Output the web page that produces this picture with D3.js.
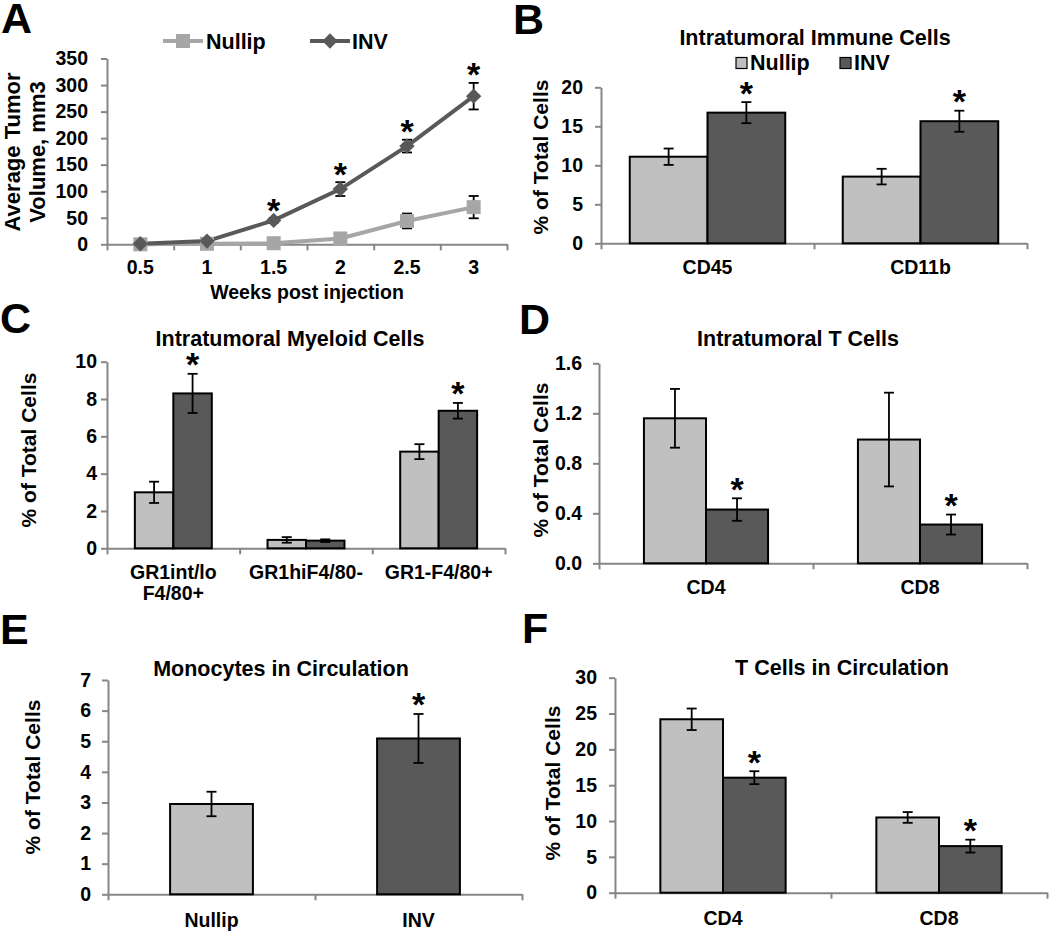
<!DOCTYPE html>
<html><head><meta charset="utf-8">
<script src="https://cdn.jsdelivr.net/npm/d3@7"></script>
<style>
html,body{margin:0;padding:0;background:#fff;}
svg text{font-family:'Liberation Sans',Arial,sans-serif;font-weight:bold;fill:#000;}
</style></head>
<body>
<svg id="fig" width="1050" height="932"></svg>
<script>
// ---------- DATA ----------
const seriesNames = ["Nullip", "INV"];
// Panel A
const weeks = ["0.5", "1", "1.5", "2", "2.5", "3"];
const nullipVol = [0, 1, 2, 11, 44, 70];
const nullipVolErr = [1, 1, 1, 3, 14, 21];
const invVol = [1, 6, 45, 104, 185, 279];
const invVolErr = [1, 2, 4, 13, 12, 25];
const invVolSig = [false, false, true, true, true, true];
const volTicks = [0, 50, 100, 150, 200, 250, 300, 350];
// Panel B
const immuneCats = ["CD45", "CD11b"];
const immuneNullip = [11.1, 8.55];
const immuneNullipErr = [1.05, 1.0];
const immuneInv = [16.75, 15.65];
const immuneInvErr = [1.35, 1.35];
const immuneTicks = [0, 5, 10, 15, 20];
// Panel C
const myeloidCats = ["GR1int/lo\nF4/80+", "GR1hiF4/80-", "GR1-F4/80+"];
const myeloidNullip = [3.0, 0.45, 5.18];
const myeloidNullipErr = [0.57, 0.15, 0.4];
const myeloidInv = [8.3, 0.41, 7.37];
const myeloidInvErr = [1.05, 0.07, 0.42];
const myeloidInvSig = [true, false, true];
const myeloidTicks = [0, 2, 4, 6, 8, 10];
// Panel D
const tumorTCats = ["CD4", "CD8"];
const tumorTNullip = [1.16, 0.99];
const tumorTNullipErr = [0.235, 0.375];
const tumorTInv = [0.43, 0.31];
const tumorTInvErr = [0.09, 0.08];
const tumorTTicks = [0, 0.4, 0.8, 1.2, 1.6];
// Panel E
const monoCats = ["Nullip", "INV"];
const monoVals = [2.95, 5.09];
const monoErr = [0.4, 0.8];
const monoSig = [false, true];
const monoTicks = [0, 1, 2, 3, 4, 5, 6, 7];
// Panel F
const circTCats = ["CD4", "CD8"];
const circTNullip = [24.2, 10.5];
const circTNullipErr = [1.5, 0.75];
const circTInv = [16.05, 6.5];
const circTInvErr = [0.9, 0.9];
const circTTicks = [0, 5, 10, 15, 20, 25, 30];

// ---------- STYLE ----------
const LIGHT = "#c0c0c0", DARK = "#595959";
const LINE_LIGHT = "#a6a6a6", LINE_DARK = "#595959";
const AXIS = "#868686";
const FS_TICK = 19.5, FS_CAT = 19.5, FS_TITLE = 21.5, FS_YT = 21, FS_LEG = 21.5;

const svg = d3.select("#fig");

function panelLabel(t, x, y) {
  svg.append("text").attr("x", x).attr("y", y).attr("font-size", 43).text(t);
}
function star(g, x, yc) {
  g.append("text").attr("x", x).attr("y", yc + 0.6 * 34).attr("text-anchor", "middle")
    .attr("font-size", 34).text("*");
}
function styleAxis(sel) {
  sel.selectAll("path.domain").attr("stroke", AXIS).attr("stroke-width", 2);
  sel.selectAll(".tick line").attr("stroke", AXIS).attr("stroke-width", 2);
  sel.selectAll(".tick text").attr("font-size", FS_TICK).attr("font-family", "'Liberation Sans',Arial,sans-serif").attr("font-weight", "bold").attr("fill", "#000");
}
function yTitle(lines, x, y, fs) {
  lines.forEach((l, i) => {
    svg.append("text").attr("transform", `translate(${x[i]},${y}) rotate(-90)`)
      .attr("text-anchor", "middle").attr("dy", "0.36em").attr("font-size", fs || FS_YT).text(l);
  });
}
function errBar(g, x, y, v, e, cap) {
  g.append("line").attr("x1", x).attr("x2", x).attr("y1", y(v - e)).attr("y2", y(v + e)).attr("stroke", "#000").attr("stroke-width", 1.8);
  [v - e, v + e].forEach(t => g.append("line").attr("x1", x - cap).attr("x2", x + cap).attr("y1", y(t)).attr("y2", y(t)).attr("stroke", "#000").attr("stroke-width", 1.8));
}
function axes(o, n, ticks, fmt) {
  const y = d3.scaleLinear().domain([0, ticks[ticks.length - 1]]).range([o.y0, o.yTop]);
  const gy = svg.append("g").attr("transform", `translate(${o.left},0)`)
    .call(d3.axisLeft(y).tickValues(ticks).tickFormat(fmt).tickSize(6).tickSizeOuter(0).tickPadding(o.labelGap - 6));
  styleAxis(gy);
  const xl = d3.scaleLinear().domain([0, n]).range([o.left, o.right]);
  const gx = svg.append("g").attr("transform", `translate(0,${o.y0})`)
    .call(d3.axisBottom(xl).tickValues(d3.range(n + 1)).tickFormat("").tickSize(6).tickSizeOuter(0));
  styleAxis(gx);
  return y;
}
function catLabels(x, cats, yb) {
  cats.forEach(c => {
    c.split("\n").forEach((l, i) => {
      svg.append("text").attr("x", x(c) + x.bandwidth() / 2).attr("y", yb + i * 21)
        .attr("text-anchor", "middle").attr("font-size", FS_CAT).text(l);
    });
  });
}
function barPanel(o) {
  const n = o.cats.length;
  const y = axes(o, n, o.ticks, o.fmt || d3.format("d"));
  const x = d3.scaleBand().domain(o.cats).range([o.left, o.right]).padding(0);
  const g = svg.append("g");
  const bw = x.bandwidth() * o.barFrac;
  const ns = o.series.length;
  o.cats.forEach((c, i) => {
    const cx = x(c) + x.bandwidth() / 2;
    o.series.forEach((s, j) => {
      const x0 = cx - (ns * bw) / 2 + j * bw;
      const col = Array.isArray(s.color) ? s.color[i] : s.color;
      g.append("rect").attr("x", x0).attr("y", y(s.vals[i])).attr("width", bw)
        .attr("height", y(0) - y(s.vals[i])).attr("fill", col).attr("stroke", "#000").attr("stroke-width", 2);
    });
    o.series.forEach((s, j) => {
      const bx = cx - (ns * bw) / 2 + j * bw + bw / 2;
      errBar(g, bx, y, s.vals[i], s.errs[i], 5);
      if (s.sig && s.sig[i]) star(g, bx, y(s.vals[i] + s.errs[i]) - 18);
    });
  });
  catLabels(x, o.cats, o.catY);
  svg.append("text").attr("x", o.titleX).attr("y", o.titleY).attr("text-anchor", "middle").attr("font-size", FS_TITLE).text(o.title);
  yTitle(["% of Total Cells"], [o.yTitleX], o.yTitleY);
}

// ---------- PANEL A ----------
(function () {
  const o = { left: 107, right: 507, y0: 244.3, yTop: 58.5, labelGap: 19 };
  const y = axes(o, weeks.length, volTicks, d3.format("d"));
  const x = d3.scaleBand().domain(weeks).range([o.left, o.right]).padding(0);
  const cx = d => x(d) + x.bandwidth() / 2;
  const g = svg.append("g");
  const line = d3.line().x((d, i) => cx(weeks[i])).y(d => y(d));
  g.append("path").datum(nullipVol).attr("d", line).attr("fill", "none").attr("stroke", LINE_LIGHT).attr("stroke-width", 4);
  g.append("path").datum(invVol).attr("d", line).attr("fill", "none").attr("stroke", LINE_DARK).attr("stroke-width", 4);
  nullipVol.forEach((v, i) => {
    errBar(g, cx(weeks[i]), y, v, nullipVolErr[i], 5);
    g.append("rect").attr("x", cx(weeks[i]) - 7).attr("y", y(v) - 7).attr("width", 14).attr("height", 14).attr("fill", LINE_LIGHT);
  });
  invVol.forEach((v, i) => {
    errBar(g, cx(weeks[i]), y, v, invVolErr[i], 5);
    g.append("path").attr("d", d3.symbol(d3.symbolDiamond2, 150)()).attr("transform", `translate(${cx(weeks[i])},${y(v)})`).attr("fill", LINE_DARK);
    if (invVolSig[i]) star(g, cx(weeks[i]), y(v + invVolErr[i]) - 17);
  });
  catLabels(x, weeks, 274);
  svg.append("text").attr("x", 307).attr("y", 298.5).attr("text-anchor", "middle").attr("font-size", FS_CAT).text("Weeks post injection");
  yTitle(["Average Tumor", "Volume, mm3"], [12, 37], 152, 22);
  // legend
  const lg = svg.append("g");
  lg.append("line").attr("x1", 163).attr("x2", 203).attr("y1", 41).attr("y2", 41).attr("stroke", LINE_LIGHT).attr("stroke-width", 4);
  lg.append("rect").attr("x", 176).attr("y", 34).attr("width", 14).attr("height", 14).attr("fill", LINE_LIGHT);
  lg.append("text").attr("x", 206).attr("y", 48.5).attr("font-size", FS_LEG).text(seriesNames[0]);
  lg.append("line").attr("x1", 310).attr("x2", 350).attr("y1", 41).attr("y2", 41).attr("stroke", LINE_DARK).attr("stroke-width", 4);
  lg.append("path").attr("d", d3.symbol(d3.symbolDiamond2, 150)()).attr("transform", "translate(330,41)").attr("fill", LINE_DARK);
  lg.append("text").attr("x", 352).attr("y", 48.5).attr("font-size", FS_LEG).text(seriesNames[1]);
})();

// ---------- PANEL B ----------
barPanel({
  left: 601, right: 1027, y0: 243.3, yTop: 87.3, labelGap: 18, ticks: immuneTicks,
  cats: immuneCats, barFrac: 0.365,
  series: [
    { vals: immuneNullip, errs: immuneNullipErr, color: LIGHT },
    { vals: immuneInv, errs: immuneInvErr, color: DARK, sig: [true, true] }
  ],
  catY: 274, title: "Intratumoral Immune Cells", titleX: 815, titleY: 44.5,
  yTitleX: 540, yTitleY: 157
});
(function () {
  const lg = svg.append("g");
  lg.append("rect").attr("x", 736).attr("y", 57.5).attr("width", 11).attr("height", 11).attr("fill", LIGHT).attr("stroke", "#000").attr("stroke-width", 1.2);
  lg.append("text").attr("x", 750).attr("y", 70).attr("font-size", FS_TITLE).text(seriesNames[0]);
  lg.append("rect").attr("x", 840).attr("y", 57.5).attr("width", 11).attr("height", 11).attr("fill", DARK).attr("stroke", "#000").attr("stroke-width", 1.2);
  lg.append("text").attr("x", 854).attr("y", 70).attr("font-size", FS_TITLE).text(seriesNames[1]);
})();

// ---------- PANEL C ----------
barPanel({
  left: 107, right: 505, y0: 548.3, yTop: 361.7, labelGap: 10, ticks: myeloidTicks,
  cats: myeloidCats, barFrac: 0.29,
  series: [
    { vals: myeloidNullip, errs: myeloidNullipErr, color: LIGHT },
    { vals: myeloidInv, errs: myeloidInvErr, color: DARK, sig: myeloidInvSig }
  ],
  catY: 579, title: "Intratumoral Myeloid Cells", titleX: 290, titleY: 345.5,
  yTitleX: 28, yTitleY: 450
});

// ---------- PANEL D ----------
barPanel({
  left: 599, right: 1027, y0: 563.3, yTop: 363.3, labelGap: 17, ticks: tumorTTicks, fmt: d3.format(".1f"),
  cats: tumorTCats, barFrac: 0.29,
  series: [
    { vals: tumorTNullip, errs: tumorTNullipErr, color: LIGHT },
    { vals: tumorTInv, errs: tumorTInvErr, color: DARK, sig: [true, true] }
  ],
  catY: 594, title: "Intratumoral T Cells", titleX: 798, titleY: 345.5,
  yTitleX: 540, yTitleY: 460
});

// ---------- PANEL E ----------
barPanel({
  left: 108, right: 522, y0: 894.3, yTop: 680, labelGap: 17, ticks: monoTicks,
  cats: monoCats, barFrac: 0.40,
  series: [
    { vals: monoVals, errs: monoErr, color: [LIGHT, DARK], sig: monoSig }
  ],
  catY: 927, title: "Monocytes in Circulation", titleX: 281, titleY: 675.5,
  yTitleX: 32, yTitleY: 777
});

// ---------- PANEL F ----------
barPanel({
  left: 615, right: 1047, y0: 892.7, yTop: 677.7, labelGap: 18, ticks: circTTicks,
  cats: circTCats, barFrac: 0.29,
  series: [
    { vals: circTNullip, errs: circTNullipErr, color: LIGHT },
    { vals: circTInv, errs: circTInvErr, color: DARK, sig: [true, true] }
  ],
  catY: 925, title: "T Cells in Circulation", titleX: 842, titleY: 674.5,
  yTitleX: 552, yTitleY: 783
});

panelLabel("A", 1, 33);
panelLabel("B", 513, 34);
panelLabel("C", 0, 333);
panelLabel("D", 519, 334);
panelLabel("E", 0, 644);
panelLabel("F", 522, 643);
</script>
</body></html>
